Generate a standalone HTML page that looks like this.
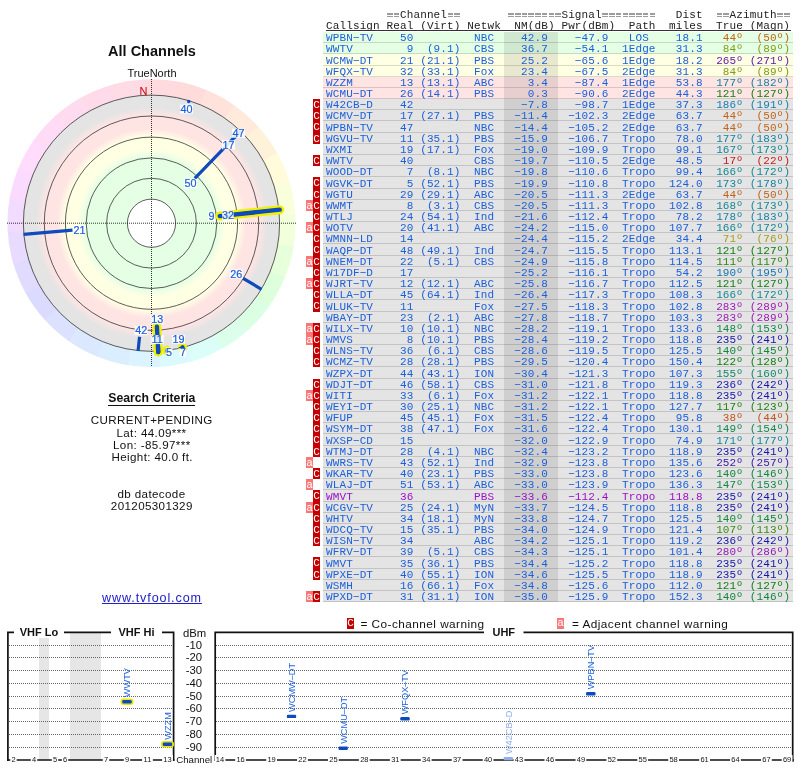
<!DOCTYPE html>
<html><head><meta charset="utf-8"><title>TV Fool</title>
<style>
html,body{margin:0;padding:0;background:#fff;}
body{width:800px;height:768px;position:relative;overflow:hidden;font-family:"Liberation Sans",sans-serif;}
.abs{position:absolute;}
.m{font-family:"Liberation Mono",monospace;font-size:11.00px;letter-spacing:0.125px;white-space:pre;line-height:12px;height:12px;position:absolute;left:326.0px;color:#1a5fdb;}
.h{color:#222;}
.g{color:#a4a4a4;font-weight:bold;}
.rb{position:absolute;left:323px;width:469.5px;}
.bg{background:#e4ffe4}.by{background:#ffffe4}.br{background:#ffe4e4}.bx{background:#e4e4e4}
.sep{position:absolute;left:323px;width:469.5px;height:1px;background:rgba(0,0,0,0.14);}
.bc{position:absolute;left:313px;width:7px;background:#c40000;color:#fff;font-family:"Liberation Mono",monospace;font-size:11px;line-height:12px;text-align:center;overflow:hidden;}
.ba{position:absolute;left:306px;width:7px;background:#f87878;color:#fff;font-family:"Liberation Mono",monospace;font-size:11px;line-height:12px;text-align:center;overflow:hidden;}
.c{position:absolute;text-align:center;white-space:nowrap;color:#111;}
.lb{font-family:"Liberation Sans",sans-serif;font-size:10.8px;stroke:#1a5fdb;stroke-width:0.2px;fill:#1a5fdb;text-anchor:middle;}
</style></head><body><div id="wrap" style="position:absolute;left:0;top:0;width:800px;height:768px;will-change:transform;">
<div class="c" style="left:2.0px;top:40.8px;width:300px;font-size:14.50px;line-height:20px;height:20px;font-weight:bold;">All Channels</div>
<div class="c" style="left:2.0px;top:63.4px;width:300px;font-size:11.00px;line-height:20px;height:20px;">TrueNorth</div>
<div class="c" style="left:1.8px;top:388.0px;width:300px;font-size:12.25px;line-height:20px;height:20px;font-weight:bold;"><span style="border-bottom:1.5px solid #111;padding-bottom:0px;">Search Criteria</span></div>
<div class="c" style="left:1.8px;top:410.0px;width:300px;font-size:11.60px;line-height:20px;height:20px;letter-spacing:0.38px;">CURRENT+PENDING</div>
<div class="c" style="left:1.5px;top:423.0px;width:300px;font-size:11.60px;line-height:20px;height:20px;letter-spacing:0.38px;">Lat: 44.09***</div>
<div class="c" style="left:1.8px;top:435.0px;width:300px;font-size:11.60px;line-height:20px;height:20px;letter-spacing:0.38px;">Lon: -85.97***</div>
<div class="c" style="left:2.2px;top:447.0px;width:300px;font-size:11.60px;line-height:20px;height:20px;letter-spacing:0.38px;">Height: 40.0 ft.</div>
<div class="c" style="left:1.5px;top:484.0px;width:300px;font-size:11.60px;line-height:20px;height:20px;letter-spacing:0.38px;">db datecode</div>
<div class="c" style="left:1.8px;top:496.0px;width:300px;font-size:11.60px;line-height:20px;height:20px;letter-spacing:0.38px;">201205301329</div>
<div class="c" style="left:2.0px;top:588.0px;width:300px;font-size:12.60px;line-height:20px;height:20px;letter-spacing:0.89px;"><span style="color:#2020c8;text-decoration:underline;">www.tvfool.com</span></div>
<svg class="abs" style="left:0;top:60px;" width="310" height="320" viewBox="0 60 310 320">
<defs>
<radialGradient id="rg" gradientUnits="userSpaceOnUse" cx="151.5" cy="223.2" r="128.1">
<stop offset="0.0000" stop-color="#ffffff"/>
<stop offset="0.1881" stop-color="#ffffff"/>
<stop offset="0.1882" stop-color="#e4ffe4"/>
<stop offset="0.5137" stop-color="#e4ffe4"/>
<stop offset="0.5761" stop-color="#ffffe4"/>
<stop offset="0.6760" stop-color="#ffffe4"/>
<stop offset="0.7385" stop-color="#ffe4e4"/>
<stop offset="0.8407" stop-color="#ffe4e4"/>
<stop offset="0.9032" stop-color="#e4e4e4"/>
<stop offset="1.0000" stop-color="#e4e4e4"/>
</radialGradient>
</defs>
<path d="M151.50 223.20 L142.64 79.47 A144.0 144.0 0 0 1 176.33 81.36 Z" fill="#ffdbe0"/>
<path d="M151.50 223.20 L174.84 81.10 A144.0 144.0 0 0 1 207.27 90.44 Z" fill="#ffdbdb"/>
<path d="M151.50 223.20 L205.88 89.86 A144.0 144.0 0 0 1 235.41 106.18 Z" fill="#ffe2db"/>
<path d="M151.50 223.20 L234.18 105.30 A144.0 144.0 0 0 1 259.35 127.78 Z" fill="#ffeadb"/>
<path d="M151.50 223.20 L258.34 126.66 A144.0 144.0 0 0 1 277.88 154.17 Z" fill="#fff2db"/>
<path d="M151.50 223.20 L277.15 152.85 A144.0 144.0 0 0 1 290.07 184.03 Z" fill="#fffbdb"/>
<path d="M151.50 223.20 L289.65 182.58 A144.0 144.0 0 0 1 295.31 215.84 Z" fill="#faffdb"/>
<path d="M151.50 223.20 L295.23 214.34 A144.0 144.0 0 0 1 293.34 248.03 Z" fill="#f1ffdb"/>
<path d="M151.50 223.20 L293.60 246.54 A144.0 144.0 0 0 1 284.26 278.97 Z" fill="#e7ffdb"/>
<path d="M151.50 223.20 L284.84 277.58 A144.0 144.0 0 0 1 268.52 307.11 Z" fill="#ddffdb"/>
<path d="M151.50 223.20 L269.40 305.88 A144.0 144.0 0 0 1 246.92 331.05 Z" fill="#dbffe2"/>
<path d="M151.50 223.20 L248.04 330.04 A144.0 144.0 0 0 1 220.53 349.58 Z" fill="#dbffeb"/>
<path d="M151.50 223.20 L221.85 348.85 A144.0 144.0 0 0 1 190.67 361.77 Z" fill="#dbfff8"/>
<path d="M151.50 223.20 L192.12 361.35 A144.0 144.0 0 0 1 158.86 367.01 Z" fill="#dbfaff"/>
<path d="M151.50 223.20 L160.36 366.93 A144.0 144.0 0 0 1 126.67 365.04 Z" fill="#dbf4ff"/>
<path d="M151.50 223.20 L128.16 365.30 A144.0 144.0 0 0 1 95.73 355.96 Z" fill="#dbeeff"/>
<path d="M151.50 223.20 L97.12 356.54 A144.0 144.0 0 0 1 67.59 340.22 Z" fill="#dbe8ff"/>
<path d="M151.50 223.20 L68.82 341.10 A144.0 144.0 0 0 1 43.65 318.62 Z" fill="#dbe1ff"/>
<path d="M151.50 223.20 L44.66 319.74 A144.0 144.0 0 0 1 25.12 292.23 Z" fill="#dbdbff"/>
<path d="M151.50 223.20 L25.85 293.55 A144.0 144.0 0 0 1 12.93 262.37 Z" fill="#e1dbff"/>
<path d="M151.50 223.20 L13.35 263.82 A144.0 144.0 0 0 1 7.69 230.56 Z" fill="#e9dbff"/>
<path d="M151.50 223.20 L7.77 232.06 A144.0 144.0 0 0 1 9.66 198.37 Z" fill="#f1dbff"/>
<path d="M151.50 223.20 L9.40 199.86 A144.0 144.0 0 0 1 18.74 167.43 Z" fill="#fadbff"/>
<path d="M151.50 223.20 L18.16 168.82 A144.0 144.0 0 0 1 34.48 139.29 Z" fill="#ffdbfc"/>
<path d="M151.50 223.20 L33.60 140.52 A144.0 144.0 0 0 1 56.08 115.35 Z" fill="#ffdbf6"/>
<path d="M151.50 223.20 L54.96 116.36 A144.0 144.0 0 0 1 82.47 96.82 Z" fill="#ffdbef"/>
<path d="M151.50 223.20 L81.15 97.55 A144.0 144.0 0 0 1 112.33 84.63 Z" fill="#ffdbea"/>
<path d="M151.50 223.20 L110.88 85.05 A144.0 144.0 0 0 1 144.14 79.39 Z" fill="#ffdbe5"/>
<circle cx="151.5" cy="223.2" r="128.1" fill="url(#rg)"/>
<circle cx="151.5" cy="223.2" r="24.1" fill="none" stroke="#2a2a2a" stroke-width="0.75"/>
<circle cx="151.5" cy="223.2" r="44.9" fill="none" stroke="#2a2a2a" stroke-width="0.75"/>
<circle cx="151.5" cy="223.2" r="65.3" fill="none" stroke="#2a2a2a" stroke-width="0.75"/>
<circle cx="151.5" cy="223.2" r="86.1" fill="none" stroke="#2a2a2a" stroke-width="0.75"/>
<circle cx="151.5" cy="223.2" r="107.2" fill="none" stroke="#2a2a2a" stroke-width="0.75"/>
<circle cx="151.5" cy="223.2" r="128.1" fill="none" stroke="#2a2a2a" stroke-width="0.75"/>
<line x1="7" y1="223.2" x2="296" y2="223.2" stroke="#111" stroke-opacity="0.85" stroke-width="1" stroke-dasharray="1,1"/>
<line x1="151.5" y1="79" x2="151.5" y2="367" stroke="#111" stroke-opacity="0.85" stroke-width="1" stroke-dasharray="1,1"/>
<text x="143.5" y="95" style="font-family:'Liberation Sans',sans-serif;font-size:11px;fill:#cc0000;text-anchor:middle;">N</text>
<line x1="219.72" y1="216.03" x2="279.79" y2="209.72" stroke="#f0f000" stroke-width="9" stroke-linecap="round"/>
<line x1="156.92" y1="326.70" x2="158.25" y2="352.02" stroke="#f0f000" stroke-width="9" stroke-linecap="round"/>
<line x1="157.98" y1="346.85" x2="158.25" y2="352.02" stroke="#f0f000" stroke-width="9" stroke-linecap="round"/>
<line x1="182.44" y1="347.29" x2="182.71" y2="348.37" stroke="#f0f000" stroke-width="9" stroke-linecap="round"/>
<line x1="167.10" y1="350.24" x2="167.22" y2="351.24" stroke="#f0f000" stroke-width="9" stroke-linecap="round"/>
<line x1="194.78" y1="178.39" x2="240.69" y2="130.84" stroke="#0e4abc" stroke-width="3.2" stroke-linecap="butt"/>
<line x1="219.72" y1="216.03" x2="279.79" y2="209.72" stroke="#0e4abc" stroke-width="4.3" stroke-linecap="round"/>
<line x1="72.50" y1="230.11" x2="23.59" y2="234.39" stroke="#0e4abc" stroke-width="3.2" stroke-linecap="butt"/>
<line x1="233.79" y1="214.55" x2="279.20" y2="209.78" stroke="#0e4abc" stroke-width="3.2" stroke-linecap="butt"/>
<line x1="156.92" y1="326.70" x2="158.25" y2="352.02" stroke="#0e4abc" stroke-width="4.3" stroke-linecap="round"/>
<line x1="243.13" y1="278.26" x2="261.56" y2="289.33" stroke="#0e4abc" stroke-width="3.2" stroke-linecap="butt"/>
<line x1="139.56" y1="336.77" x2="138.08" y2="350.90" stroke="#0e4abc" stroke-width="3.2" stroke-linecap="butt"/>
<line x1="234.24" y1="137.52" x2="240.69" y2="130.84" stroke="#0e4abc" stroke-width="3.2" stroke-linecap="butt"/>
<line x1="236.42" y1="135.26" x2="240.69" y2="130.84" stroke="#0e4abc" stroke-width="3.2" stroke-linecap="butt"/>
<line x1="157.98" y1="346.85" x2="158.25" y2="352.02" stroke="#0e4abc" stroke-width="4.3" stroke-linecap="round"/>
<line x1="180.08" y1="347.00" x2="180.38" y2="348.31" stroke="#0e4abc" stroke-width="3.2" stroke-linecap="butt"/>
<line x1="188.86" y1="101.00" x2="189.04" y2="100.41" stroke="#0e4abc" stroke-width="3.2" stroke-linecap="butt"/>
<line x1="182.44" y1="347.29" x2="182.71" y2="348.37" stroke="#0e4abc" stroke-width="4.3" stroke-linecap="round"/>
<line x1="167.10" y1="350.24" x2="167.22" y2="351.24" stroke="#0e4abc" stroke-width="4.3" stroke-linecap="round"/>
<circle cx="188.72" cy="101.46" r="1.7" fill="#0e4abc"/>
<circle cx="234.16" cy="137.60" r="1.7" fill="#0e4abc"/>
<rect x="184.0" y="179.0" width="13.0" height="9" fill="#fff" fill-opacity="0.88"/>
<rect x="208.0" y="212.0" width="7.0" height="9" fill="#fff" fill-opacity="0.88"/>
<rect x="73.0" y="225.5" width="13.0" height="9" fill="#fff" fill-opacity="0.88"/>
<rect x="222.1" y="210.8" width="11.6" height="9" fill="#fff" fill-opacity="0.88"/>
<rect x="150.7" y="314.8" width="13.0" height="9" fill="#fff" fill-opacity="0.88"/>
<rect x="229.7" y="269.5" width="13.0" height="9" fill="#fff" fill-opacity="0.88"/>
<rect x="134.7" y="326.1" width="13.0" height="9" fill="#fff" fill-opacity="0.88"/>
<rect x="222.0" y="140.3" width="13.0" height="9" fill="#fff" fill-opacity="0.88"/>
<rect x="232.0" y="128.8" width="13.0" height="9" fill="#fff" fill-opacity="0.88"/>
<rect x="150.7" y="335.1" width="13.0" height="9" fill="#fff" fill-opacity="0.88"/>
<rect x="172.0" y="334.8" width="13.0" height="9" fill="#fff" fill-opacity="0.88"/>
<rect x="180.0" y="104.5" width="13.0" height="9" fill="#fff" fill-opacity="0.88"/>
<rect x="179.4" y="348.0" width="7.0" height="9" fill="#fff" fill-opacity="0.88"/>
<rect x="165.5" y="347.5" width="7.0" height="9" fill="#fff" fill-opacity="0.88"/>
<text class="lb" x="190.5" y="187.2">50</text>
<text class="lb" x="211.5" y="220.2">9</text>
<text class="lb" x="79.5" y="233.7">21</text>
<text class="lb" x="227.9" y="219.0">32</text>
<text class="lb" x="157.2" y="323.0">13</text>
<text class="lb" x="236.2" y="277.7">26</text>
<text class="lb" x="141.2" y="334.3">42</text>
<text class="lb" x="228.5" y="148.5">17</text>
<text class="lb" x="238.5" y="137.0">47</text>
<text class="lb" x="157.2" y="343.3">11</text>
<text class="lb" x="178.5" y="343.0">19</text>
<text class="lb" x="186.5" y="112.7">40</text>
<text class="lb" x="182.9" y="356.2">7</text>
<text class="lb" x="169.0" y="355.7">5</text>
</svg>
<div class="m h" style="top:8.7px;">           Channel                 Signal           Dist    Azimuth  </div>
<div class="abs" style="left:387.22px;top:13.1px;width:5.5px;height:1.5px;background:#9c9c9c;"></div>
<div class="abs" style="left:387.22px;top:15.5px;width:5.5px;height:1.5px;background:#9c9c9c;"></div>
<div class="abs" style="left:393.95px;top:13.1px;width:5.5px;height:1.5px;background:#9c9c9c;"></div>
<div class="abs" style="left:393.95px;top:15.5px;width:5.5px;height:1.5px;background:#9c9c9c;"></div>
<div class="abs" style="left:447.75px;top:13.1px;width:5.5px;height:1.5px;background:#9c9c9c;"></div>
<div class="abs" style="left:447.75px;top:15.5px;width:5.5px;height:1.5px;background:#9c9c9c;"></div>
<div class="abs" style="left:454.47px;top:13.1px;width:5.5px;height:1.5px;background:#9c9c9c;"></div>
<div class="abs" style="left:454.47px;top:15.5px;width:5.5px;height:1.5px;background:#9c9c9c;"></div>
<div class="abs" style="left:508.27px;top:13.1px;width:5.5px;height:1.5px;background:#9c9c9c;"></div>
<div class="abs" style="left:508.27px;top:15.5px;width:5.5px;height:1.5px;background:#9c9c9c;"></div>
<div class="abs" style="left:515.00px;top:13.1px;width:5.5px;height:1.5px;background:#9c9c9c;"></div>
<div class="abs" style="left:515.00px;top:15.5px;width:5.5px;height:1.5px;background:#9c9c9c;"></div>
<div class="abs" style="left:521.73px;top:13.1px;width:5.5px;height:1.5px;background:#9c9c9c;"></div>
<div class="abs" style="left:521.73px;top:15.5px;width:5.5px;height:1.5px;background:#9c9c9c;"></div>
<div class="abs" style="left:528.45px;top:13.1px;width:5.5px;height:1.5px;background:#9c9c9c;"></div>
<div class="abs" style="left:528.45px;top:15.5px;width:5.5px;height:1.5px;background:#9c9c9c;"></div>
<div class="abs" style="left:535.18px;top:13.1px;width:5.5px;height:1.5px;background:#9c9c9c;"></div>
<div class="abs" style="left:535.18px;top:15.5px;width:5.5px;height:1.5px;background:#9c9c9c;"></div>
<div class="abs" style="left:541.90px;top:13.1px;width:5.5px;height:1.5px;background:#9c9c9c;"></div>
<div class="abs" style="left:541.90px;top:15.5px;width:5.5px;height:1.5px;background:#9c9c9c;"></div>
<div class="abs" style="left:548.62px;top:13.1px;width:5.5px;height:1.5px;background:#9c9c9c;"></div>
<div class="abs" style="left:548.62px;top:15.5px;width:5.5px;height:1.5px;background:#9c9c9c;"></div>
<div class="abs" style="left:555.35px;top:13.1px;width:5.5px;height:1.5px;background:#9c9c9c;"></div>
<div class="abs" style="left:555.35px;top:15.5px;width:5.5px;height:1.5px;background:#9c9c9c;"></div>
<div class="abs" style="left:602.42px;top:13.1px;width:5.5px;height:1.5px;background:#9c9c9c;"></div>
<div class="abs" style="left:602.42px;top:15.5px;width:5.5px;height:1.5px;background:#9c9c9c;"></div>
<div class="abs" style="left:609.15px;top:13.1px;width:5.5px;height:1.5px;background:#9c9c9c;"></div>
<div class="abs" style="left:609.15px;top:15.5px;width:5.5px;height:1.5px;background:#9c9c9c;"></div>
<div class="abs" style="left:615.88px;top:13.1px;width:5.5px;height:1.5px;background:#9c9c9c;"></div>
<div class="abs" style="left:615.88px;top:15.5px;width:5.5px;height:1.5px;background:#9c9c9c;"></div>
<div class="abs" style="left:622.60px;top:13.1px;width:5.5px;height:1.5px;background:#9c9c9c;"></div>
<div class="abs" style="left:622.60px;top:15.5px;width:5.5px;height:1.5px;background:#9c9c9c;"></div>
<div class="abs" style="left:629.33px;top:13.1px;width:5.5px;height:1.5px;background:#9c9c9c;"></div>
<div class="abs" style="left:629.33px;top:15.5px;width:5.5px;height:1.5px;background:#9c9c9c;"></div>
<div class="abs" style="left:636.05px;top:13.1px;width:5.5px;height:1.5px;background:#9c9c9c;"></div>
<div class="abs" style="left:636.05px;top:15.5px;width:5.5px;height:1.5px;background:#9c9c9c;"></div>
<div class="abs" style="left:642.78px;top:13.1px;width:5.5px;height:1.5px;background:#9c9c9c;"></div>
<div class="abs" style="left:642.78px;top:15.5px;width:5.5px;height:1.5px;background:#9c9c9c;"></div>
<div class="abs" style="left:649.50px;top:13.1px;width:5.5px;height:1.5px;background:#9c9c9c;"></div>
<div class="abs" style="left:649.50px;top:15.5px;width:5.5px;height:1.5px;background:#9c9c9c;"></div>
<div class="abs" style="left:716.75px;top:13.1px;width:5.5px;height:1.5px;background:#9c9c9c;"></div>
<div class="abs" style="left:716.75px;top:15.5px;width:5.5px;height:1.5px;background:#9c9c9c;"></div>
<div class="abs" style="left:723.48px;top:13.1px;width:5.5px;height:1.5px;background:#9c9c9c;"></div>
<div class="abs" style="left:723.48px;top:15.5px;width:5.5px;height:1.5px;background:#9c9c9c;"></div>
<div class="abs" style="left:777.28px;top:13.1px;width:5.5px;height:1.5px;background:#9c9c9c;"></div>
<div class="abs" style="left:777.28px;top:15.5px;width:5.5px;height:1.5px;background:#9c9c9c;"></div>
<div class="abs" style="left:784.00px;top:13.1px;width:5.5px;height:1.5px;background:#9c9c9c;"></div>
<div class="abs" style="left:784.00px;top:15.5px;width:5.5px;height:1.5px;background:#9c9c9c;"></div>
<div class="m h" style="top:19.6px;">Callsign Real (Virt) Netwk  NM(dB) Pwr(dBm)  Path  miles  True (Magn)</div>
<div class="abs" style="left:326px;top:30px;width:465px;height:1px;background:#333;"></div>
<div class="rb bg" style="top:32px;height:22px;"></div>
<div class="rb by" style="top:54px;height:23px;"></div>
<div class="rb br" style="top:77px;height:22px;"></div>
<div class="rb bx" style="top:99px;height:503px;"></div>
<div class="abs" style="left:504px;top:32px;width:54px;height:570px;background:rgba(0,0,0,0.09);"></div>
<div class="sep" style="top:42px;"></div>
<div class="sep" style="top:53px;"></div>
<div class="sep" style="top:65px;"></div>
<div class="sep" style="top:76px;"></div>
<div class="sep" style="top:87px;"></div>
<div class="sep" style="top:98px;"></div>
<div class="sep" style="top:109px;"></div>
<div class="sep" style="top:120px;"></div>
<div class="sep" style="top:132px;"></div>
<div class="sep" style="top:143px;"></div>
<div class="sep" style="top:154px;"></div>
<div class="sep" style="top:165px;"></div>
<div class="sep" style="top:176px;"></div>
<div class="sep" style="top:188px;"></div>
<div class="sep" style="top:199px;"></div>
<div class="sep" style="top:210px;"></div>
<div class="sep" style="top:221px;"></div>
<div class="sep" style="top:232px;"></div>
<div class="sep" style="top:243px;"></div>
<div class="sep" style="top:255px;"></div>
<div class="sep" style="top:266px;"></div>
<div class="sep" style="top:277px;"></div>
<div class="sep" style="top:288px;"></div>
<div class="sep" style="top:299px;"></div>
<div class="sep" style="top:311px;"></div>
<div class="sep" style="top:322px;"></div>
<div class="sep" style="top:333px;"></div>
<div class="sep" style="top:344px;"></div>
<div class="sep" style="top:355px;"></div>
<div class="sep" style="top:366px;"></div>
<div class="sep" style="top:378px;"></div>
<div class="sep" style="top:389px;"></div>
<div class="sep" style="top:400px;"></div>
<div class="sep" style="top:411px;"></div>
<div class="sep" style="top:422px;"></div>
<div class="sep" style="top:433px;"></div>
<div class="sep" style="top:445px;"></div>
<div class="sep" style="top:456px;"></div>
<div class="sep" style="top:467px;"></div>
<div class="sep" style="top:478px;"></div>
<div class="sep" style="top:489px;"></div>
<div class="sep" style="top:501px;"></div>
<div class="sep" style="top:512px;"></div>
<div class="sep" style="top:523px;"></div>
<div class="sep" style="top:534px;"></div>
<div class="sep" style="top:545px;"></div>
<div class="sep" style="top:556px;"></div>
<div class="sep" style="top:568px;"></div>
<div class="sep" style="top:579px;"></div>
<div class="sep" style="top:590px;"></div>
<div class="sep" style="top:601px;"></div>
<div class="bc" style="top:99px;height:11px;">C</div>
<div class="bc" style="top:110px;height:11px;">C</div>
<div class="bc" style="top:121px;height:12px;">C</div>
<div class="bc" style="top:133px;height:11px;">C</div>
<div class="bc" style="top:155px;height:11px;">C</div>
<div class="bc" style="top:177px;height:12px;">C</div>
<div class="bc" style="top:189px;height:11px;">C</div>
<div class="bc" style="top:200px;height:11px;">C</div>
<div class="ba" style="top:200px;height:11px;">a</div>
<div class="bc" style="top:211px;height:11px;">C</div>
<div class="bc" style="top:222px;height:11px;">C</div>
<div class="ba" style="top:222px;height:11px;">a</div>
<div class="bc" style="top:233px;height:11px;">C</div>
<div class="bc" style="top:244px;height:12px;">C</div>
<div class="bc" style="top:256px;height:11px;">C</div>
<div class="ba" style="top:256px;height:11px;">a</div>
<div class="bc" style="top:267px;height:11px;">C</div>
<div class="bc" style="top:278px;height:11px;">C</div>
<div class="ba" style="top:278px;height:11px;">a</div>
<div class="bc" style="top:289px;height:11px;">C</div>
<div class="bc" style="top:300px;height:12px;">C</div>
<div class="bc" style="top:323px;height:11px;">C</div>
<div class="ba" style="top:323px;height:11px;">a</div>
<div class="bc" style="top:334px;height:11px;">C</div>
<div class="ba" style="top:334px;height:11px;">a</div>
<div class="bc" style="top:345px;height:11px;">C</div>
<div class="bc" style="top:356px;height:11px;">C</div>
<div class="bc" style="top:379px;height:11px;">C</div>
<div class="bc" style="top:390px;height:11px;">C</div>
<div class="ba" style="top:390px;height:11px;">a</div>
<div class="bc" style="top:401px;height:11px;">C</div>
<div class="bc" style="top:412px;height:11px;">C</div>
<div class="bc" style="top:423px;height:11px;">C</div>
<div class="bc" style="top:434px;height:12px;">C</div>
<div class="bc" style="top:446px;height:11px;">C</div>
<div class="ba" style="top:457px;height:11px;">a</div>
<div class="bc" style="top:468px;height:11px;">C</div>
<div class="ba" style="top:479px;height:11px;">a</div>
<div class="bc" style="top:490px;height:12px;">C</div>
<div class="bc" style="top:502px;height:11px;">C</div>
<div class="ba" style="top:502px;height:11px;">a</div>
<div class="bc" style="top:513px;height:11px;">C</div>
<div class="bc" style="top:524px;height:11px;">C</div>
<div class="bc" style="top:535px;height:11px;">C</div>
<div class="bc" style="top:557px;height:12px;">C</div>
<div class="bc" style="top:569px;height:11px;">C</div>
<div class="bc" style="top:591px;height:11px;">C</div>
<div class="ba" style="top:591px;height:11px;">a</div>
<div class="m" style="top:31.7px;">WPBN−TV    50         NBC    42.9    −47.9   LOS    18.1  <span style="color:#bf6317"> 44º  (50º)</span></div>
<div class="m" style="top:42.7px;">WWTV        9  (9.1)  CBS    36.7    −54.1  1Edge   31.3  <span style="color:#809c13"> 84º  (89º)</span></div>
<div class="m" style="top:54.7px;">WCMW−DT    21 (21.1)  PBS    25.2    −65.6  1Edge   18.2  <span style="color:#5b15ac">265º (271º)</span></div>
<div class="m" style="top:65.7px;">WFQX−TV    32 (33.1)  Fox    23.4    −67.5  2Edge   31.3  <span style="color:#809c13"> 84º  (89º)</span></div>
<div class="m" style="top:76.7px;">WZZM       13 (13.1)  ABC     3.4    −87.4  1Edge   53.8  <span style="color:#1483a2">177º (182º)</span></div>
<div class="m" style="top:87.7px;">WCMU−DT    26 (14.1)  PBS     0.3    −90.6  2Edge   44.3  <span style="color:#0f7f0f">121º (127º)</span></div>
<div class="m" style="top:98.7px;">W42CB−D    42                −7.8    −98.7  1Edge   37.3  <span style="color:#157db1">186º (191º)</span></div>
<div class="m" style="top:109.7px;">WCMV−DT    17 (27.1)  PBS   −11.4   −102.3  2Edge   63.7  <span style="color:#bf6317"> 44º  (50º)</span></div>
<div class="m" style="top:121.7px;">WPBN−TV    47         NBC   −14.4   −105.2  2Edge   63.7  <span style="color:#bf6317"> 44º  (50º)</span></div>
<div class="m" style="top:132.7px;">WGVU−TV    11 (35.1)  PBS   −15.9   −106.7  Tropo   78.0  <span style="color:#1483a2">177º (183º)</span></div>
<div class="m" style="top:143.7px;">WXMI       19 (17.1)  Fox   −19.0   −109.9  Tropo   99.1  <span style="color:#128793">167º (173º)</span></div>
<div class="m" style="top:154.7px;">WWTV       40         CBS   −19.7   −110.5  2Edge   48.5  <span style="color:#cc1919"> 17º  (22º)</span></div>
<div class="m" style="top:165.7px;">WOOD−DT     7  (8.1)  NBC   −19.8   −110.6  Tropo   99.4  <span style="color:#128792">166º (172º)</span></div>
<div class="m" style="top:177.7px;">WGVK−DT     5 (52.1)  PBS   −19.9   −110.8  Tropo  124.0  <span style="color:#13859c">173º (178º)</span></div>
<div class="m" style="top:188.7px;">WGTU       29 (29.1)  ABC   −20.5   −111.3  2Edge   63.7  <span style="color:#bf6317"> 44º  (50º)</span></div>
<div class="m" style="top:199.7px;">WWMT        8  (3.1)  CBS   −20.5   −111.3  Tropo  102.8  <span style="color:#128795">168º (173º)</span></div>
<div class="m" style="top:210.7px;">WTLJ       24 (54.1)  Ind   −21.6   −112.4  Tropo   78.2  <span style="color:#1483a4">178º (183º)</span></div>
<div class="m" style="top:221.7px;">WOTV       20 (41.1)  ABC   −24.2   −115.0  Tropo  107.7  <span style="color:#128792">166º (172º)</span></div>
<div class="m" style="top:232.7px;">WMNN−LD    14               −24.4   −115.2  2Edge   34.4  <span style="color:#a5a014"> 71º  (76º)</span></div>
<div class="m" style="top:244.7px;">WAQP−DT    48 (49.1)  Ind   −24.7   −115.5  Tropo  113.1  <span style="color:#0f7f0f">121º (127º)</span></div>
<div class="m" style="top:255.7px;">WNEM−DT    22  (5.1)  CBS   −24.9   −115.8  Tropo  114.5  <span style="color:#2d8710">111º (117º)</span></div>
<div class="m" style="top:266.7px;">W17DF−D    17               −25.2   −116.1  Tropo   54.2  <span style="color:#1575b0">190º (195º)</span></div>
<div class="m" style="top:277.7px;">WJRT−TV    12 (12.1)  ABC   −25.8   −116.7  Tropo  112.5  <span style="color:#0f7f0f">121º (127º)</span></div>
<div class="m" style="top:288.7px;">WLLA−DT    45 (64.1)  Ind   −26.4   −117.3  Tropo  108.3  <span style="color:#128792">166º (172º)</span></div>
<div class="m" style="top:300.7px;">WLUK−TV    11         Fox   −27.5   −118.3  Tropo  102.8  <span style="color:#9e17ba">283º (289º)</span></div>
<div class="m" style="top:311.7px;">WBAY−DT    23  (2.1)  ABC   −27.8   −118.7  Tropo  103.3  <span style="color:#9e17ba">283º (289º)</span></div>
<div class="m" style="top:322.7px;">WILX−TV    10 (10.1)  NBC   −28.2   −119.1  Tropo  133.6  <span style="color:#10884c">148º (153º)</span></div>
<div class="m" style="top:333.7px;">WMVS        8 (10.1)  PBS   −28.4   −119.2  Tropo  118.8  <span style="color:#1515ac">235º (241º)</span></div>
<div class="m" style="top:344.7px;">WLNS−TV    36  (6.1)  CBS   −28.6   −119.5  Tropo  125.5  <span style="color:#10853b">140º (145º)</span></div>
<div class="m" style="top:355.7px;">WCMZ−TV    28 (28.1)  PBS   −29.5   −120.4  Tropo  150.4  <span style="color:#0f7f11">122º (128º)</span></div>
<div class="m" style="top:367.7px;">WZPX−DT    44 (43.1)  ION   −30.4   −121.3  Tropo  107.3  <span style="color:#10886a">155º (160º)</span></div>
<div class="m" style="top:378.7px;">WDJT−DT    46 (58.1)  CBS   −31.0   −121.8  Tropo  119.3  <span style="color:#1715ac">236º (242º)</span></div>
<div class="m" style="top:389.7px;">WITI       33  (6.1)  Fox   −31.2   −122.1  Tropo  118.8  <span style="color:#1515ac">235º (241º)</span></div>
<div class="m" style="top:400.7px;">WEYI−DT    30 (25.1)  NBC   −31.2   −122.1  Tropo  127.7  <span style="color:#1b8210">117º (123º)</span></div>
<div class="m" style="top:411.7px;">WFUP       45 (45.1)  Fox   −31.5   −122.4  Tropo   95.8  <span style="color:#c25318"> 38º  (44º)</span></div>
<div class="m" style="top:422.7px;">WSYM−DT    38 (47.1)  Fox   −31.6   −122.4  Tropo  130.1  <span style="color:#108850">149º (154º)</span></div>
<div class="m" style="top:434.7px;">WXSP−CD    15               −32.0   −122.9  Tropo   74.9  <span style="color:#138699">171º (177º)</span></div>
<div class="m" style="top:445.7px;">WTMJ−DT    28  (4.1)  NBC   −32.4   −123.2  Tropo  118.9  <span style="color:#1515ac">235º (241º)</span></div>
<div class="m" style="top:456.7px;">WWRS−TV    43 (52.1)  Ind   −32.9   −123.8  Tropo  135.6  <span style="color:#3b15ac">252º (257º)</span></div>
<div class="m" style="top:467.7px;">WKAR−TV    40 (23.1)  PBS   −33.0   −123.8  Tropo  123.6  <span style="color:#10853b">140º (146º)</span></div>
<div class="m" style="top:478.7px;">WLAJ−DT    51 (53.1)  ABC   −33.0   −123.9  Tropo  136.3  <span style="color:#10874a">147º (153º)</span></div>
<div class="m" style="top:490.7px;color:#9a10c8;">WMVT       36         PBS   −33.6   −112.4  Tropo  118.8  <span style="color:#1515ac">235º (241º)</span></div>
<div class="m" style="top:501.7px;">WCGV−TV    25 (24.1)  MyN   −33.7   −124.5  Tropo  118.8  <span style="color:#1515ac">235º (241º)</span></div>
<div class="m" style="top:512.7px;">WHTV       34 (18.1)  MyN   −33.8   −124.7  Tropo  125.5  <span style="color:#10853b">140º (145º)</span></div>
<div class="m" style="top:523.7px;">WDCQ−TV    15 (35.1)  PBS   −34.0   −124.9  Tropo  121.4  <span style="color:#398b11">107º (113º)</span></div>
<div class="m" style="top:534.7px;">WISN−TV    34         ABC   −34.2   −125.1  Tropo  119.2  <span style="color:#1715ac">236º (242º)</span></div>
<div class="m" style="top:545.7px;">WFRV−DT    39  (5.1)  CBS   −34.3   −125.1  Tropo  101.4  <span style="color:#9216b7">280º (286º)</span></div>
<div class="m" style="top:557.7px;">WMVT       35 (36.1)  PBS   −34.4   −125.2  Tropo  118.8  <span style="color:#1515ac">235º (241º)</span></div>
<div class="m" style="top:568.7px;">WPXE−DT    40 (55.1)  ION   −34.6   −125.5  Tropo  118.9  <span style="color:#1515ac">235º (241º)</span></div>
<div class="m" style="top:579.7px;">WSMH       16 (66.1)  Fox   −34.8   −125.6  Tropo  112.0  <span style="color:#0f7f0f">121º (127º)</span></div>
<div class="m" style="top:590.7px;">WPXD−DT    31 (31.1)  ION   −35.0   −125.9  Tropo  152.3  <span style="color:#10853b">140º (146º)</span></div>
<div class="abs" style="left:347px;top:618px;width:7px;height:11px;background:#c40000;color:#fff;font-family:'Liberation Mono',monospace;font-size:11px;line-height:11px;text-align:center;">C</div>
<div class="abs" style="left:360.5px;top:617px;font-size:11.8px;line-height:14px;white-space:pre;color:#111;letter-spacing:0.45px;">= Co-channel warning</div>
<div class="abs" style="left:557px;top:618px;width:7px;height:11px;background:#f87878;color:#fff;font-family:'Liberation Mono',monospace;font-size:11px;line-height:11px;text-align:center;">a</div>
<div class="abs" style="left:572px;top:617px;font-size:11.8px;line-height:14px;white-space:pre;color:#111;letter-spacing:0.45px;">= Adjacent channel warning</div>
<svg class="abs" style="left:0;top:612px;" width="800" height="156" viewBox="0 612 800 156">
<rect x="39" y="633" width="10" height="127" fill="#e6e6e6"/>
<rect x="70" y="633" width="31" height="127" fill="#e6e6e6"/>
<line x1="9" y1="645.5" x2="173" y2="645.5" stroke="#444" stroke-opacity="0.8" stroke-width="1" stroke-dasharray="1,1"/>
<line x1="216" y1="645.5" x2="793" y2="645.5" stroke="#444" stroke-opacity="0.8" stroke-width="1" stroke-dasharray="1,1"/>
<text x="194" y="649.3" style="font-family:'Liberation Sans',sans-serif;font-size:11.3px;fill:#111;text-anchor:middle;">-10</text>
<line x1="9" y1="657.5" x2="173" y2="657.5" stroke="#444" stroke-opacity="0.8" stroke-width="1" stroke-dasharray="1,1"/>
<line x1="216" y1="657.5" x2="793" y2="657.5" stroke="#444" stroke-opacity="0.8" stroke-width="1" stroke-dasharray="1,1"/>
<text x="194" y="661.3" style="font-family:'Liberation Sans',sans-serif;font-size:11.3px;fill:#111;text-anchor:middle;">-20</text>
<line x1="9" y1="670.5" x2="173" y2="670.5" stroke="#444" stroke-opacity="0.8" stroke-width="1" stroke-dasharray="1,1"/>
<line x1="216" y1="670.5" x2="793" y2="670.5" stroke="#444" stroke-opacity="0.8" stroke-width="1" stroke-dasharray="1,1"/>
<text x="194" y="674.3" style="font-family:'Liberation Sans',sans-serif;font-size:11.3px;fill:#111;text-anchor:middle;">-30</text>
<line x1="9" y1="683.5" x2="173" y2="683.5" stroke="#444" stroke-opacity="0.8" stroke-width="1" stroke-dasharray="1,1"/>
<line x1="216" y1="683.5" x2="793" y2="683.5" stroke="#444" stroke-opacity="0.8" stroke-width="1" stroke-dasharray="1,1"/>
<text x="194" y="687.3" style="font-family:'Liberation Sans',sans-serif;font-size:11.3px;fill:#111;text-anchor:middle;">-40</text>
<line x1="9" y1="696.5" x2="173" y2="696.5" stroke="#444" stroke-opacity="0.8" stroke-width="1" stroke-dasharray="1,1"/>
<line x1="216" y1="696.5" x2="793" y2="696.5" stroke="#444" stroke-opacity="0.8" stroke-width="1" stroke-dasharray="1,1"/>
<text x="194" y="700.3" style="font-family:'Liberation Sans',sans-serif;font-size:11.3px;fill:#111;text-anchor:middle;">-50</text>
<line x1="9" y1="708.5" x2="173" y2="708.5" stroke="#444" stroke-opacity="0.8" stroke-width="1" stroke-dasharray="1,1"/>
<line x1="216" y1="708.5" x2="793" y2="708.5" stroke="#444" stroke-opacity="0.8" stroke-width="1" stroke-dasharray="1,1"/>
<text x="194" y="712.3" style="font-family:'Liberation Sans',sans-serif;font-size:11.3px;fill:#111;text-anchor:middle;">-60</text>
<line x1="9" y1="721.5" x2="173" y2="721.5" stroke="#444" stroke-opacity="0.8" stroke-width="1" stroke-dasharray="1,1"/>
<line x1="216" y1="721.5" x2="793" y2="721.5" stroke="#444" stroke-opacity="0.8" stroke-width="1" stroke-dasharray="1,1"/>
<text x="194" y="725.3" style="font-family:'Liberation Sans',sans-serif;font-size:11.3px;fill:#111;text-anchor:middle;">-70</text>
<line x1="9" y1="734.5" x2="173" y2="734.5" stroke="#444" stroke-opacity="0.8" stroke-width="1" stroke-dasharray="1,1"/>
<line x1="216" y1="734.5" x2="793" y2="734.5" stroke="#444" stroke-opacity="0.8" stroke-width="1" stroke-dasharray="1,1"/>
<text x="194" y="738.3" style="font-family:'Liberation Sans',sans-serif;font-size:11.3px;fill:#111;text-anchor:middle;">-80</text>
<line x1="9" y1="747.5" x2="173" y2="747.5" stroke="#444" stroke-opacity="0.8" stroke-width="1" stroke-dasharray="1,1"/>
<line x1="216" y1="747.5" x2="793" y2="747.5" stroke="#444" stroke-opacity="0.8" stroke-width="1" stroke-dasharray="1,1"/>
<text x="194" y="751.3" style="font-family:'Liberation Sans',sans-serif;font-size:11.3px;fill:#111;text-anchor:middle;">-90</text>
<text x="194.5" y="637" style="font-family:'Liberation Sans',sans-serif;font-size:11.3px;fill:#111;text-anchor:middle;">dBm</text>
<text x="194.2" y="762.5" style="font-family:'Liberation Sans',sans-serif;font-size:9.7px;fill:#111;text-anchor:middle;">Channel</text>
<path d="M7.9 761 L7.9 632.4 L173.6 632.4 L173.6 761" fill="none" stroke="#111" stroke-width="1.7"/>
<line x1="7" y1="760.1" x2="174.4" y2="760.1" stroke="#111" stroke-width="1.5"/>
<path d="M215.2 761 L215.2 632.4 L792.7 632.4 L792.7 762" fill="none" stroke="#111" stroke-width="1.7"/>
<line x1="214.4" y1="760.1" x2="794" y2="760.1" stroke="#111" stroke-width="1.5"/>
<rect x="14.0" y="626" width="50.0" height="12" fill="#fff"/>
<text x="39.0" y="636.2" style="font-family:'Liberation Sans',sans-serif;font-size:11px;font-weight:bold;fill:#111;text-anchor:middle;">VHF Lo</text>
<rect x="111.0" y="626" width="51.0" height="12" fill="#fff"/>
<text x="136.5" y="636.2" style="font-family:'Liberation Sans',sans-serif;font-size:11px;font-weight:bold;fill:#111;text-anchor:middle;">VHF Hi</text>
<rect x="484.0" y="626" width="39.5" height="12" fill="#fff"/>
<text x="503.8" y="636.2" style="font-family:'Liberation Sans',sans-serif;font-size:11px;font-weight:bold;fill:#111;text-anchor:middle;">UHF</text>
<rect x="10.3" y="755" width="6.4" height="8" fill="#fff"/>
<text x="13.5" y="762.2" style="font-family:'Liberation Sans',sans-serif;font-size:7.5px;fill:#111;text-anchor:middle;">2</text>
<rect x="30.8" y="755" width="6.4" height="8" fill="#fff"/>
<text x="34.0" y="762.2" style="font-family:'Liberation Sans',sans-serif;font-size:7.5px;fill:#111;text-anchor:middle;">4</text>
<rect x="51.8" y="755" width="6.4" height="8" fill="#fff"/>
<text x="55.0" y="762.2" style="font-family:'Liberation Sans',sans-serif;font-size:7.5px;fill:#111;text-anchor:middle;">5</text>
<rect x="61.8" y="755" width="6.4" height="8" fill="#fff"/>
<text x="65.0" y="762.2" style="font-family:'Liberation Sans',sans-serif;font-size:7.5px;fill:#111;text-anchor:middle;">6</text>
<rect x="102.8" y="755" width="6.4" height="8" fill="#fff"/>
<text x="106.0" y="762.2" style="font-family:'Liberation Sans',sans-serif;font-size:7.5px;fill:#111;text-anchor:middle;">7</text>
<rect x="123.8" y="755" width="6.4" height="8" fill="#fff"/>
<text x="127.0" y="762.2" style="font-family:'Liberation Sans',sans-serif;font-size:7.5px;fill:#111;text-anchor:middle;">9</text>
<rect x="142.1" y="755" width="10.8" height="8" fill="#fff"/>
<text x="147.5" y="762.2" style="font-family:'Liberation Sans',sans-serif;font-size:7.5px;fill:#111;text-anchor:middle;">11</text>
<rect x="162.1" y="755" width="10.8" height="8" fill="#fff"/>
<text x="167.5" y="762.2" style="font-family:'Liberation Sans',sans-serif;font-size:7.5px;fill:#111;text-anchor:middle;">13</text>
<rect x="214.6" y="755" width="10.8" height="8" fill="#fff"/>
<text x="220.0" y="762.2" style="font-family:'Liberation Sans',sans-serif;font-size:7.5px;fill:#111;text-anchor:middle;">14</text>
<rect x="235.2" y="755" width="10.8" height="8" fill="#fff"/>
<text x="240.6" y="762.2" style="font-family:'Liberation Sans',sans-serif;font-size:7.5px;fill:#111;text-anchor:middle;">16</text>
<rect x="266.2" y="755" width="10.8" height="8" fill="#fff"/>
<text x="271.6" y="762.2" style="font-family:'Liberation Sans',sans-serif;font-size:7.5px;fill:#111;text-anchor:middle;">19</text>
<rect x="297.1" y="755" width="10.8" height="8" fill="#fff"/>
<text x="302.5" y="762.2" style="font-family:'Liberation Sans',sans-serif;font-size:7.5px;fill:#111;text-anchor:middle;">22</text>
<rect x="328.0" y="755" width="10.8" height="8" fill="#fff"/>
<text x="333.4" y="762.2" style="font-family:'Liberation Sans',sans-serif;font-size:7.5px;fill:#111;text-anchor:middle;">25</text>
<rect x="358.9" y="755" width="10.8" height="8" fill="#fff"/>
<text x="364.3" y="762.2" style="font-family:'Liberation Sans',sans-serif;font-size:7.5px;fill:#111;text-anchor:middle;">28</text>
<rect x="389.9" y="755" width="10.8" height="8" fill="#fff"/>
<text x="395.3" y="762.2" style="font-family:'Liberation Sans',sans-serif;font-size:7.5px;fill:#111;text-anchor:middle;">31</text>
<rect x="420.8" y="755" width="10.8" height="8" fill="#fff"/>
<text x="426.2" y="762.2" style="font-family:'Liberation Sans',sans-serif;font-size:7.5px;fill:#111;text-anchor:middle;">34</text>
<rect x="451.7" y="755" width="10.8" height="8" fill="#fff"/>
<text x="457.1" y="762.2" style="font-family:'Liberation Sans',sans-serif;font-size:7.5px;fill:#111;text-anchor:middle;">37</text>
<rect x="482.7" y="755" width="10.8" height="8" fill="#fff"/>
<text x="488.1" y="762.2" style="font-family:'Liberation Sans',sans-serif;font-size:7.5px;fill:#111;text-anchor:middle;">40</text>
<rect x="513.6" y="755" width="10.8" height="8" fill="#fff"/>
<text x="519.0" y="762.2" style="font-family:'Liberation Sans',sans-serif;font-size:7.5px;fill:#111;text-anchor:middle;">43</text>
<rect x="544.5" y="755" width="10.8" height="8" fill="#fff"/>
<text x="549.9" y="762.2" style="font-family:'Liberation Sans',sans-serif;font-size:7.5px;fill:#111;text-anchor:middle;">46</text>
<rect x="575.5" y="755" width="10.8" height="8" fill="#fff"/>
<text x="580.9" y="762.2" style="font-family:'Liberation Sans',sans-serif;font-size:7.5px;fill:#111;text-anchor:middle;">49</text>
<rect x="606.4" y="755" width="10.8" height="8" fill="#fff"/>
<text x="611.8" y="762.2" style="font-family:'Liberation Sans',sans-serif;font-size:7.5px;fill:#111;text-anchor:middle;">52</text>
<rect x="637.3" y="755" width="10.8" height="8" fill="#fff"/>
<text x="642.7" y="762.2" style="font-family:'Liberation Sans',sans-serif;font-size:7.5px;fill:#111;text-anchor:middle;">55</text>
<rect x="668.2" y="755" width="10.8" height="8" fill="#fff"/>
<text x="673.6" y="762.2" style="font-family:'Liberation Sans',sans-serif;font-size:7.5px;fill:#111;text-anchor:middle;">58</text>
<rect x="699.2" y="755" width="10.8" height="8" fill="#fff"/>
<text x="704.6" y="762.2" style="font-family:'Liberation Sans',sans-serif;font-size:7.5px;fill:#111;text-anchor:middle;">61</text>
<rect x="730.1" y="755" width="10.8" height="8" fill="#fff"/>
<text x="735.5" y="762.2" style="font-family:'Liberation Sans',sans-serif;font-size:7.5px;fill:#111;text-anchor:middle;">64</text>
<rect x="761.0" y="755" width="10.8" height="8" fill="#fff"/>
<text x="766.4" y="762.2" style="font-family:'Liberation Sans',sans-serif;font-size:7.5px;fill:#111;text-anchor:middle;">67</text>
<rect x="781.7" y="755" width="10.8" height="8" fill="#fff"/>
<text x="787.1" y="762.2" style="font-family:'Liberation Sans',sans-serif;font-size:7.5px;fill:#111;text-anchor:middle;">69</text>
<rect x="120.5" y="698.5" width="13" height="6.4" rx="3" fill="#e8e800"/>
<rect x="122.3" y="700.0" width="9.4" height="3.4" rx="1.2" fill="#0e4abc"/>
<text transform="translate(130.4 697.2) rotate(-90)" style="font-family:'Liberation Sans',sans-serif;font-size:9.2px;fill:#2264da;letter-spacing:0px;">WWTV</text>
<rect x="161.0" y="741.0" width="13" height="6.4" rx="3" fill="#e8e800"/>
<rect x="162.8" y="742.5" width="9.4" height="3.4" rx="1.2" fill="#0e4abc"/>
<text transform="translate(170.9 739.7) rotate(-90)" style="font-family:'Liberation Sans',sans-serif;font-size:9.2px;fill:#2264da;letter-spacing:0px;">WZZM</text>
<rect x="286.8" y="714.7" width="9.4" height="3.4" rx="1.2" fill="#0e4abc"/>
<text transform="translate(294.9 711.9) rotate(-90)" style="font-family:'Liberation Sans',sans-serif;font-size:9.2px;fill:#2264da;letter-spacing:0px;">WCMW–DT</text>
<rect x="338.5" y="746.6" width="9.4" height="3.4" rx="1.2" fill="#0e4abc"/>
<text transform="translate(346.6 743.8) rotate(-90)" style="font-family:'Liberation Sans',sans-serif;font-size:9.2px;fill:#2264da;letter-spacing:0px;">WCMU–DT</text>
<rect x="400.3" y="717.1" width="9.4" height="3.4" rx="1.2" fill="#0e4abc"/>
<text transform="translate(408.4 714.3) rotate(-90)" style="font-family:'Liberation Sans',sans-serif;font-size:9.2px;fill:#2264da;letter-spacing:0px;">WFQX–TV</text>
<rect x="503.6" y="756.9" width="9.4" height="3.4" rx="1.2" fill="#8fb0e6"/>
<text transform="translate(511.7 754.1) rotate(-90)" style="font-family:'Liberation Sans',sans-serif;font-size:9.2px;fill:#8fb0e6;letter-spacing:0px;">W42CB–D</text>
<rect x="586.1" y="692.1" width="9.4" height="3.4" rx="1.2" fill="#0e4abc"/>
<text transform="translate(594.2 689.3) rotate(-90)" style="font-family:'Liberation Sans',sans-serif;font-size:9.2px;fill:#2264da;letter-spacing:0px;">WPBN–TV</text>
</svg>
</div></body></html>
